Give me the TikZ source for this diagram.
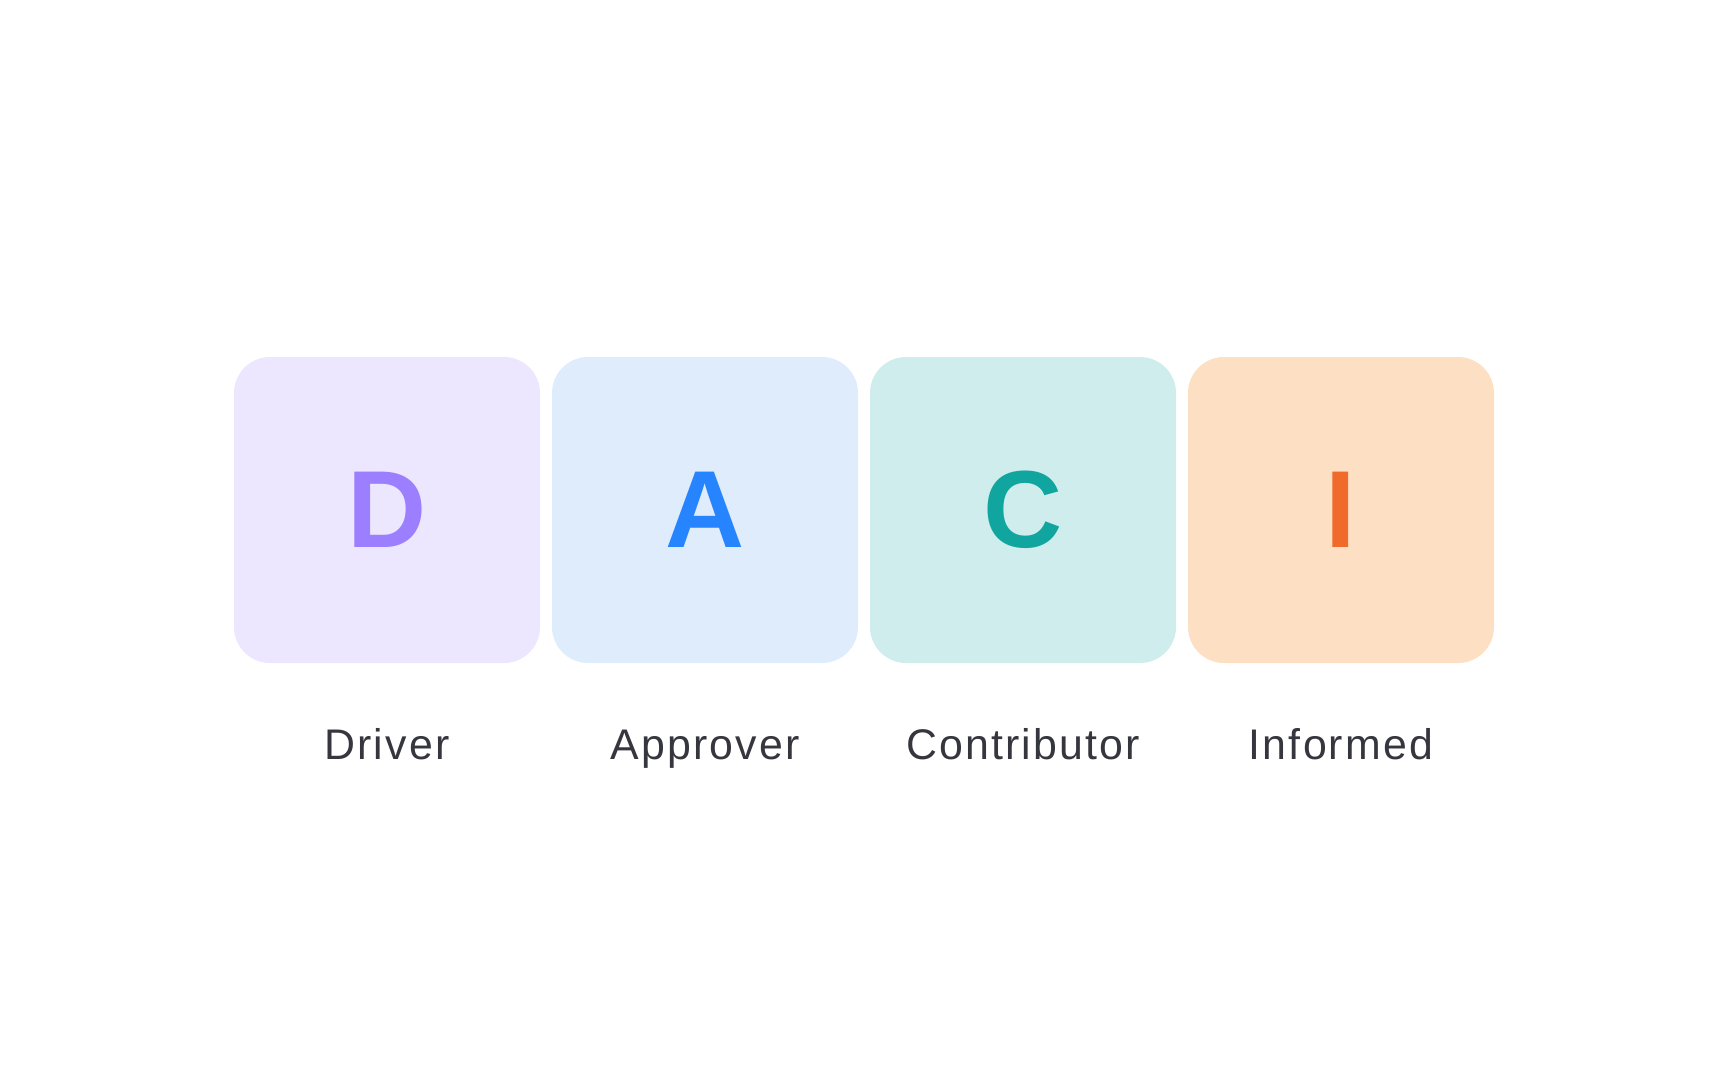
\documentclass[tikz,border=0pt]{standalone}
\usepackage{fontspec}
\setmainfont{Liberation Sans}
\newfontfamily\labfont[LetterSpace=5]{Liberation Sans}
\definecolor{dbg}{HTML}{ECE6FE}
\definecolor{dfg}{HTML}{9B7FFF}
\definecolor{abg}{HTML}{DFECFC}
\definecolor{afg}{HTML}{2684FF}
\definecolor{cbg}{HTML}{CFEDEC}
\definecolor{cfg}{HTML}{10A59F}
\definecolor{ibg}{HTML}{FDDFC3}
\definecolor{ifg}{HTML}{F06A2C}
\definecolor{lbl}{HTML}{36363F}
\begin{document}
\begin{tikzpicture}[x=1bp,y=-1bp,
  tile/.style={rounded corners=36bp, minimum width=306bp, minimum height=306bp, inner sep=0pt,
    font=\fontsize{110}{110}\selectfont\bfseries},
  lab/.style={font=\labfont\fontsize{43}{43}\selectfont, text=lbl, inner sep=0pt}]
\useasboundingbox (0,0) rectangle (1728,1080);
\node[tile, fill=dbg, text=dfg] (d) at (387,510) {D};
\node[tile, fill=abg, text=afg] (a) at (705,510) {A};
\node[tile, fill=cbg, text=cfg] (c) at (1023,510) {C};
\node[tile, fill=ibg, text=ifg] (i) at (1341,510) {I};
\node[lab, anchor=base] (dl) at (387,759) {Driver};
\node[lab, anchor=base] (al) at (705,759) {Approver};
\node[lab, anchor=base] (cl) at (1023,759) {Contributor};
\node[lab, anchor=base] (il) at (1341,759) {Informed};
\end{tikzpicture}
\end{document}
